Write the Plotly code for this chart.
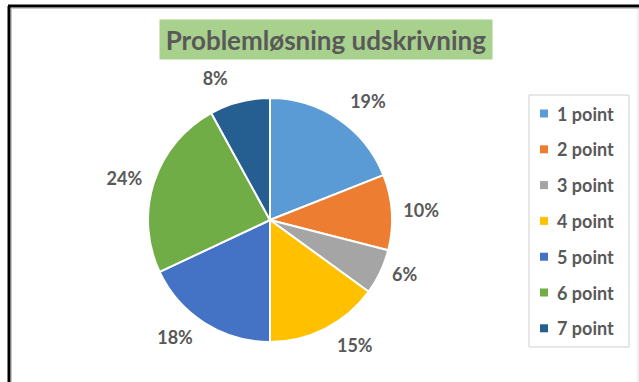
import plotly.graph_objects as go

W, H = 639, 382

CATEGORIES = ["1 point", "2 point", "3 point", "4 point", "5 point", "6 point", "7 point"]
SHARES = [19, 10, 6, 15, 18, 24, 8]   # percent of answers
COLORS = ["#5B9BD5", "#ED7D31", "#A5A5A5", "#FFC000", "#4472C4", "#70AD47", "#255E91"]
TITLE = "Problemløsning udskrivning"

INK = "#595959"
FONT = "Lato"


def px(x):  # pixel -> paper x (margins are zero)
    return x / W


def py(y):  # pixel -> paper y
    return 1 - y / H


fig = go.Figure()

# Blank padding lines above/below each label push it a bit further off the rim,
# like Excel's outside-end data labels.
fig.add_trace(go.Pie(
    labels=CATEGORIES, values=SHARES, sort=False,
    direction="clockwise", rotation=0,
    marker=dict(colors=COLORS, line=dict(color="white", width=2)),
    texttemplate="\u00a0<br><span style='font-size:18px'>%{value}%</span><br>\u00a0",
    textposition="outside",
    outsidetextfont=dict(family=FONT, size=12, color=INK, weight="bold"),
    domain=dict(x=[px(148), px(392)], y=[py(342), py(98)]),
    showlegend=False, hoverinfo="label+percent",
))

# Legend drawn by hand so the item spacing matches the original box.
fig.add_shape(type="rect", xref="paper", yref="paper",
              x0=px(529), x1=px(629), y0=py(347), y1=py(95),
              line=dict(color="#D0D0D0", width=1), fillcolor="white")
for i, (lab, col) in enumerate(zip(CATEGORIES, COLORS)):
    yc = 113.5 + i * 35.8
    fig.add_shape(type="rect", xref="paper", yref="paper",
                  x0=px(540), x1=px(548), y0=py(yc + 4), y1=py(yc - 4),
                  line=dict(width=0), fillcolor=col)
    fig.add_annotation(x=px(555), y=py(yc), xref="paper", yref="paper",
                       xanchor="left", yanchor="middle", showarrow=False,
                       text=lab, font=dict(family=FONT, size=18, color=INK, weight="bold"))

# Title in its green box.
fig.add_annotation(x=px(326), y=py(39), xref="paper", yref="paper",
                   xanchor="center", yanchor="middle",
                   showarrow=False, text=TITLE, width=332, height=39,
                   borderpad=0, bgcolor="#A9D18E",
                   font=dict(family=FONT, size=26, color=INK, weight="bold"))

# Window frame: black left/top edges, faint inner lines.
frame = [
    (px(9), py(6), px(9), 0, "black", 3),
    (px(8), py(6), 1, py(6), "black", 3),
    (px(11.5), py(8.5), px(11.5), 0, "#C8C8C8", 1),
    (px(11.5), py(8.5), 1, py(8.5), "#C8C8C8", 1),
    (px(638), py(8.5), px(638), 0, "#E0E0E0", 1),
]
for x0, y0, x1, y1, c, w in frame:
    fig.add_shape(type="line", xref="paper", yref="paper", x0=x0, y0=y0, x1=x1, y1=y1,
                  line=dict(color=c, width=w))

fig.update_layout(
    width=W, height=H,
    margin=dict(l=0, r=0, t=0, b=0),
    paper_bgcolor="white", plot_bgcolor="white",
    font=dict(family=FONT, color=INK),
)

fig.write_html("out.html", config={"displayModeBar": False},
               post_script="document.body.style.margin='0';")
